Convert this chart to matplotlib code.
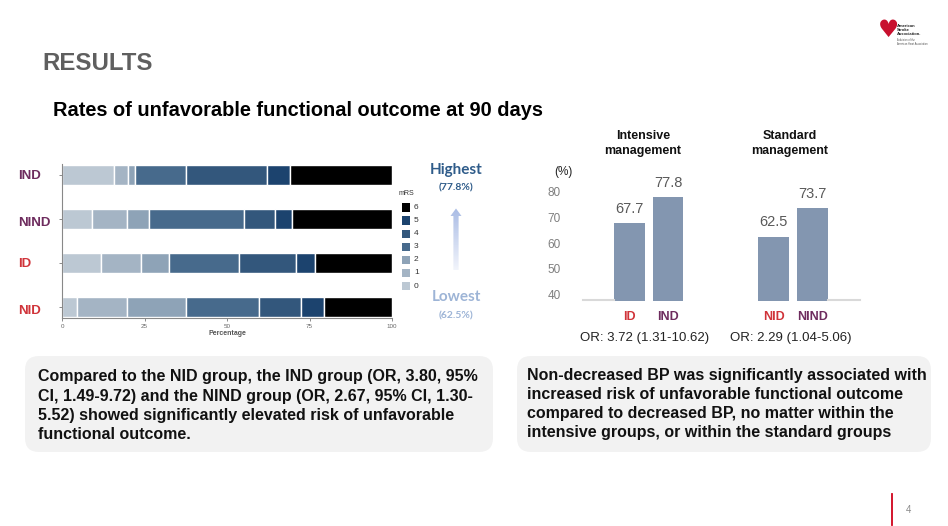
import matplotlib
matplotlib.use("Agg")
import matplotlib.pyplot as plt
import numpy as np
from matplotlib.patches import FancyBboxPatch, Rectangle, Polygon
from matplotlib.lines import Line2D
from matplotlib.colors import LinearSegmentedColormap

W, H = 948, 526
plt.rcParams['font.family'] = ['Liberation Sans', 'DejaVu Sans']

# ---------------- data ----------------
groups = ['NID', 'ID', 'NIND', 'IND']          # bottom to top
mrs_levels = ['0', '1', '2', '3', '4', '5', '6']
mrs_nid = [4.5, 15.2, 17.8, 22.2, 12.6, 7.1, 20.6]
mrs_id = [11.9, 11.9, 8.5, 21.3, 17.4, 5.6, 23.4]
mrs_nind = [9.2, 10.5, 6.6, 29.0, 9.2, 5.3, 30.2]
mrs_ind = [15.7, 4.3, 2.2, 15.5, 24.5, 6.8, 31.0]
pct_ticks = [0, 25, 50, 75, 100]

rate_groups = ['ID', 'IND', 'NID', 'NIND']
rates = [67.7, 77.8, 62.5, 73.7]
rate_ticks = [40, 50, 60, 70, 80]
or_labels = ['OR: 3.72 (1.31-10.62)', 'OR: 2.29 (1.04-5.06)']

mrs_colors = ['#BCC8D3', '#A4B4C4', '#8EA3B7', '#476A8C', '#33577C', '#1C436E', '#000000']
red_c = '#D0343A'
purple_c = '#6E2C5E'
group_colors = {'NID': red_c, 'ID': red_c, 'NIND': purple_c, 'IND': purple_c}


def fx(x):
    return x / W


def fy(y):
    return 1 - y / H


fig = plt.figure(figsize=(W / 100, H / 100), dpi=100)
fig.patch.set_facecolor('white')

# ---------------- headings ----------------
fig.text(fx(42), fy(64), 'RESULTS', fontsize=17.3, fontweight='bold', color='#5F5F5F',
         ha='left', va='center')
fig.text(fx(53), fy(111), 'Rates of unfavorable functional outcome at 90 days', fontsize=14.4,
         fontweight='bold', color='black', ha='left', va='center')

# ---------------- stacked bar chart ----------------
ax = fig.add_axes([fx(62), fy(318), 330 / W, 154 / H])
data_by_group = {'NID': mrs_nid, 'ID': mrs_id, 'NIND': mrs_nind, 'IND': mrs_ind}
ypos = np.arange(len(groups))
left = np.zeros(len(groups))
for k, lev in enumerate(mrs_levels):
    vals = np.array([data_by_group[g][k] for g in groups])
    ax.barh(ypos, vals, left=left, height=0.47, color=mrs_colors[k], edgecolor='white',
            linewidth=1.0)
    left += vals
ax.set_xlim(0, 100)
ax.set_ylim(-0.25, 3.25)
ax.set_yticks(ypos)
ax.set_yticklabels([])
ax.set_xticks(pct_ticks)
ax.set_xticklabels([str(t) for t in pct_ticks], fontsize=4.5, color='#666666')
ax.tick_params(axis='both', length=2.5, width=0.6, color='#777777', pad=1.5)
for s in ['top', 'right']:
    ax.spines[s].set_visible(False)
for s in ['left', 'bottom']:
    ax.spines[s].set_color('#888888')
    ax.spines[s].set_linewidth(0.8)
ax.set_xlabel('Percentage', fontsize=5, color='#555555', fontweight='bold', labelpad=1)

label_y = {'IND': 176, 'NIND': 223, 'ID': 264, 'NID': 311}
for g in groups:
    fig.text(fx(18), fy(label_y[g]), g, fontsize=9.5, fontweight='bold',
             color=group_colors[g], ha='left', va='center')

# legend
fig.text(fx(406), fy(194), 'mRS', fontsize=5, color='#333333', ha='center', va='center')
for i, lev in enumerate(mrs_levels[::-1]):
    yc = 207.5 + i * 13.1
    fig.add_artist(Rectangle((fx(401.5), fy(yc + 4.2)), 8.5 / W, 8.4 / H,
                             transform=fig.transFigure, facecolor=mrs_colors[6 - i],
                             edgecolor='none'))
    fig.text(fx(414), fy(yc), lev, fontsize=6, color='#333333', ha='left', va='center')

# highest / lowest arrow
fig.text(fx(456), fy(170), 'Highest', fontsize=11, fontweight='bold', color='#2F5C8A',
         ha='center', va='center', family=['Lato', 'DejaVu Sans'])
fig.text(fx(456), fy(188), '(77.8%)', fontsize=7.5, fontweight='bold', color='#2F5C8A',
         ha='center', va='center', family=['Lato', 'DejaVu Sans'])
fig.text(fx(456), fy(297), 'Lowest', fontsize=11, fontweight='bold', color='#9DB4D6',
         ha='center', va='center', family=['Lato', 'DejaVu Sans'])
fig.text(fx(456), fy(316), '(62.5%)', fontsize=7.5, fontweight='bold', color='#9DB4D6',
         ha='center', va='center', family=['Lato', 'DejaVu Sans'])

arr_ax = fig.add_axes([fx(448), fy(272), 16 / W, 66 / H])
arr_ax.set_xlim(448, 464)
arr_ax.set_ylim(272, 206)
arr_ax.axis('off')
grad = np.linspace(0, 1, 100).reshape(-1, 1)
cm = LinearSegmentedColormap.from_list('arr', ['#A7BAE4', '#F4F6FC'])
im = arr_ax.imshow(grad, extent=(448, 464, 272, 206), cmap=cm, aspect='auto', origin='upper')
arrow_poly = Polygon([(456, 208.5), (461.5, 216), (458.6, 216), (458.6, 270), (453.4, 270),
                      (453.4, 216), (450.5, 216)], closed=True, transform=arr_ax.transData,
                     facecolor='none', edgecolor='none')
arr_ax.add_patch(arrow_poly)
im.set_clip_path(arrow_poly)

# ---------------- rate bar chart ----------------
bx = fig.add_axes([fx(583), fy(301), 277 / W, 131 / H])
xpos = [0, 1, 3.75, 4.75]
bars = bx.bar(xpos, rates, width=0.8, bottom=0, color='#8396B0', edgecolor='none')
bx.set_ylim(37.4, 88.47)
bx.set_xlim(-1.21, 5.99)
for x, v in zip(xpos, rates):
    bx.text(x, v + 2.8, f'{v:.1f}', ha='center', va='bottom', fontsize=10.5, color='#595959')
bx.set_yticks(rate_ticks)
bx.set_yticklabels([str(t) for t in rate_ticks], fontsize=8.5, color='#7F7F7F')
bx.set_xticks(xpos)
bx.set_xticklabels(rate_groups, fontsize=9, fontweight='bold')
for lab, g in zip(bx.get_xticklabels(), rate_groups):
    lab.set_color(group_colors[g])
bx.tick_params(axis='y', length=0, pad=16)
bx.tick_params(axis='x', length=0, pad=7)
for s in bx.spines.values():
    s.set_visible(False)
bx.patch.set_alpha(0)
bx.plot([-1.21, -0.4], [37.6, 37.6], color='#D9D9D9', lw=1.5, clip_on=False)
bx.plot([5.15, 5.99], [37.6, 37.6], color='#D9D9D9', lw=1.5, clip_on=False)

fig.text(fx(563), fy(172), '(%)', fontsize=8.5, color='#222222', ha='center', va='center')
fig.text(fx(643), fy(143.5), 'Intensive\nmanagement', fontsize=9, fontweight='bold',
         ha='center', va='center', linespacing=1.35, color='#111111')
fig.text(fx(790), fy(143.5), 'Standard\nmanagement', fontsize=9, fontweight='bold',
         ha='center', va='center', linespacing=1.35, color='#111111')
fig.text(fx(645), fy(338), or_labels[0], fontsize=9.5, ha='center', va='center', color='#222222')
fig.text(fx(791), fy(338), or_labels[1], fontsize=9.5, ha='center', va='center', color='#222222')

# ---------------- text boxes ----------------
for (x0, x1) in [(25, 493), (517, 931)]:
    fig.add_artist(FancyBboxPatch((x0, H - 452), x1 - x0, 96,
                                  boxstyle='round,pad=0,rounding_size=14', transform=None,
                                  facecolor='#F2F2F2', edgecolor='none'))

left_text = ('Compared to the NID group, the IND group (OR, 3.80, 95%\n'
             'CI, 1.49-9.72) and the NIND group (OR, 2.67, 95% CI, 1.30-\n'
             '5.52) showed significantly elevated risk of unfavorable\n'
             'functional outcome.')
right_text = ('Non-decreased BP was significantly associated with\n'
              'increased risk of unfavorable functional outcome\n'
              'compared to decreased BP, no matter within the\n'
              'intensive groups, or within the standard groups')
fig.text(fx(38), fy(369.5), left_text, fontsize=11.5, fontweight='bold', ha='left', va='top',
         color='#111111', linespacing=1.34)
fig.text(fx(527), fy(368), right_text, fontsize=11.5, fontweight='bold', ha='left', va='top',
         color='#111111', linespacing=1.34)

# ---------------- footer / logo ----------------
fig.add_artist(Line2D([fx(892), fx(892)], [fy(494), fy(525)], color='#D0021B', lw=1.3,
                      transform=fig.transFigure))
fig.text(fx(908), fy(510), '4', fontsize=7, color='#8A8A8A', ha='center', va='center')

fig.text(fx(888), fy(30), '\u2665', fontsize=17, color='#C8102E', ha='center', va='center',
         family=['DejaVu Sans'])
fig.text(fx(897), fy(24), 'American\nStroke\nAssociation.', fontsize=3, fontweight='bold',
         color='#222222', ha='left', va='top', linespacing=1.0)
fig.text(fx(897), fy(38), 'A division of the\nAmerican Heart Association', fontsize=1.8,
         color='#555555', ha='left', va='top', linespacing=1.0)

fig.savefig('out.png', dpi=100, facecolor='white')
